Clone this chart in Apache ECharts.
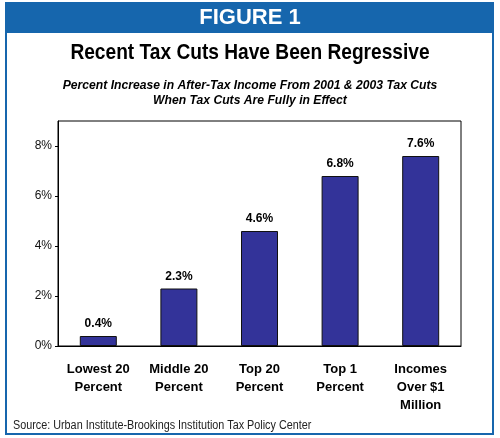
<!DOCTYPE html>
<html>
<head>
<meta charset="utf-8">
<script src="https://cdn.jsdelivr.net/npm/echarts@6/dist/echarts.min.js"></script>
<style>
html,body{margin:0;padding:0;background:#fff;}
#chart{width:500px;height:438px;}
</style>
</head>
<body>
<div id="chart"></div>
<script>
var categories = ['Lowest 20\nPercent', 'Middle 20\nPercent', 'Top 20\nPercent', 'Top 1\nPercent', 'Incomes\nOver $1\nMillion'];
var values = [0.4, 2.3, 4.6, 6.8, 7.6];
var yTicks = [0, 2, 4, 6, 8];
var headerText = 'FIGURE 1';
var titleText = 'Recent Tax Cuts Have Been Regressive';
var subtitleLines = ['Percent Increase in After-Tax Income From 2001 & 2003 Tax Cuts', 'When Tax Cuts Are Fully in Effect'];
var sourceText = 'Source: Urban Institute-Brookings Institution Tax Policy Center';

var blue = '#1666AD';
var font = 'Liberation Sans, Arial, sans-serif';
var chart = echarts.init(document.getElementById('chart'), null, {renderer: 'canvas'});
chart.setOption({
  animation: false,
  backgroundColor: '#fff',
  graphic: [
    {type: 'rect', shape: {x: 6, y: 3, width: 487, height: 431}, style: {fill: 'none', stroke: blue, lineWidth: 2}, z: 10},
    {type: 'rect', shape: {x: 6, y: 3, width: 487, height: 30}, style: {fill: blue}, z: 9},
    {type: 'text', x: 250, y: 18, style: {text: headerText, fill: '#fff', font: 'bold 22px ' + font, textAlign: 'center', textVerticalAlign: 'middle'}, z: 11},
    {type: 'text', x: 250, y: 53, scaleX: 0.87, style: {text: titleText, fill: '#000', font: 'bold 22px ' + font, textAlign: 'center', textVerticalAlign: 'middle'}, z: 11},
    {type: 'text', x: 250, y: 85, scaleX: 0.9, style: {text: subtitleLines[0], fill: '#000', font: 'italic bold 13.5px ' + font, textAlign: 'center', textVerticalAlign: 'middle'}, z: 11},
    {type: 'text', x: 250, y: 100, scaleX: 0.9, style: {text: subtitleLines[1], fill: '#000', font: 'italic bold 13.5px ' + font, textAlign: 'center', textVerticalAlign: 'middle'}, z: 11},
    {type: 'text', x: 13, y: 426, scaleX: 0.9, style: {text: sourceText, fill: '#222', font: '12px ' + font, textAlign: 'left', textVerticalAlign: 'middle'}, z: 11}
  ],
  grid: {left: 58, right: 39, top: 121, bottom: 92, show: true, borderColor: '#000', borderWidth: 1, backgroundColor: 'transparent'},
  xAxis: {
    type: 'category',
    data: categories,
    axisLine: {lineStyle: {color: '#000', width: 1}},
    axisTick: {show: false},
    axisLabel: {interval: 0, fontFamily: font, fontWeight: 'bold', fontSize: 13, color: '#000', lineHeight: 18, margin: 14}
  },
  yAxis: {
    type: 'value',
    min: 0, max: 9, interval: 2,
    splitLine: {show: false},
    axisLine: {show: true, lineStyle: {color: '#000'}},
    axisTick: {show: true, length: 3, customValues: yTicks, lineStyle: {color: '#000'}},
    axisLabel: {customValues: yTicks, formatter: '{value}%', fontFamily: font, fontSize: 12, color: '#111', margin: 6}
  },
  series: [{
    type: 'bar',
    data: values,
    barWidth: 37,
    itemStyle: {color: '#333399', borderColor: '#111', borderWidth: 1},
    label: {show: true, position: 'top', distance: 6, formatter: function(p){return p.value.toFixed(1) + '%';}, fontFamily: font, fontWeight: 'bold', fontSize: 12, color: '#000'}
  }]
});
</script>
</body>
</html>
